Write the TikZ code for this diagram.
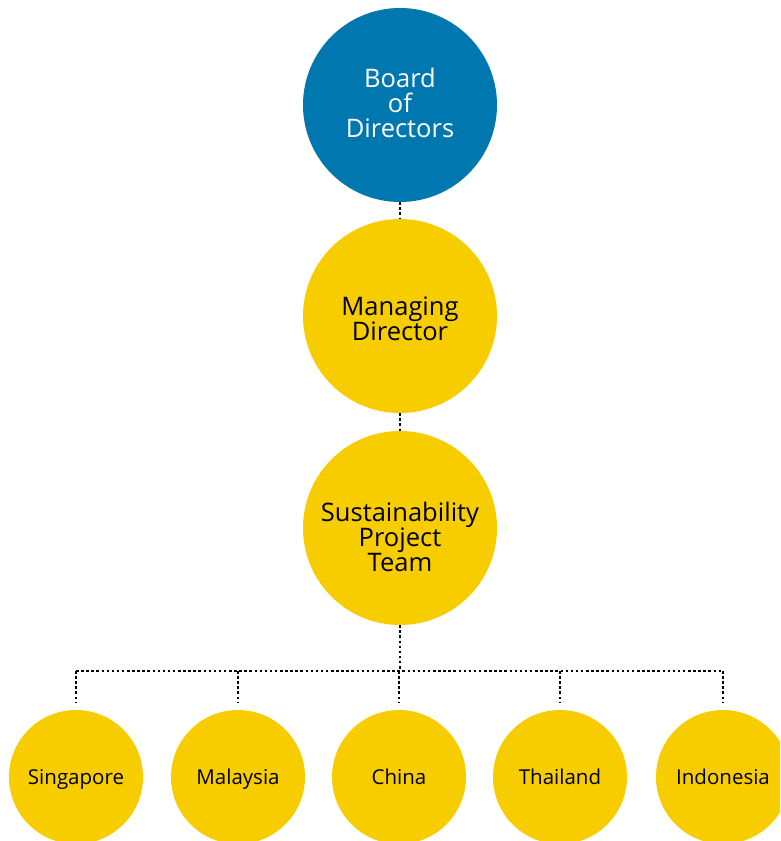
\documentclass[tikz,border=0pt]{standalone}
\usepackage{fontspec}
\setmainfont{Open Sans}
\definecolor{boardblue}{RGB}{0,120,175}
\definecolor{teamyellow}{RGB}{248,205,0}
\begin{document}
\begin{tikzpicture}[x=1pt,y=-1pt,
  bigcircle/.style={circle,fill=teamyellow,minimum size=194pt,inner sep=0pt},
  bigtext/.style={align=center,inner sep=0pt,font=\fontsize{25.5}{25}\selectfont,text=black},
  smallcircle/.style={circle,fill=teamyellow,minimum size=134pt,inner sep=0pt,
    text height=14.5pt,text depth=0pt,
    font=\fontsize{20.5}{21}\selectfont,text=black},
  link/.style={draw=black,line width=2.5pt,dash pattern=on 2.5pt off 2.6pt}]
\useasboundingbox (0,0) rectangle (780,841);
\clip (0,0) rectangle (780,841);

% hierarchy
\node[bigcircle,fill=boardblue] (bod) at (400,105) {};
\node[bigtext,text=white] (bodlabel) at (400,103) {Board\\of\\Directors};
\node[bigcircle] (md) at (400,316) {};
\node[bigtext] (mdlabel) at (400,319) {Managing\\Director};
\node[bigcircle] (spt) at (400,528) {};
\node[bigtext] (sptlabel) at (400,537) {Sustainability\\Project\\Team};

% country teams
\node[smallcircle] (sg) at (76,777) {Singapore};
\node[smallcircle] (my) at (238,777) {Malaysia};
\node[smallcircle] (cn) at (399,777) {China};
\node[smallcircle] (th) at (560,777) {Thailand};
\node[smallcircle] (id) at (723,777) {Indonesia};

% connectors
\draw[link] (bod.south) -- (md.north);
\draw[link] (md.south) -- (spt.north);
\coordinate (bus) at (400,671);
\draw[link] (spt.south) -- (bus);
\draw[link] (sg.north |- bus) -- (id.north |- bus);
\foreach \c in {sg,my,cn,th,id}
  \draw[link] (\c.north |- bus) -- ([yshift=8pt]\c.north);
\end{tikzpicture}
\end{document}
